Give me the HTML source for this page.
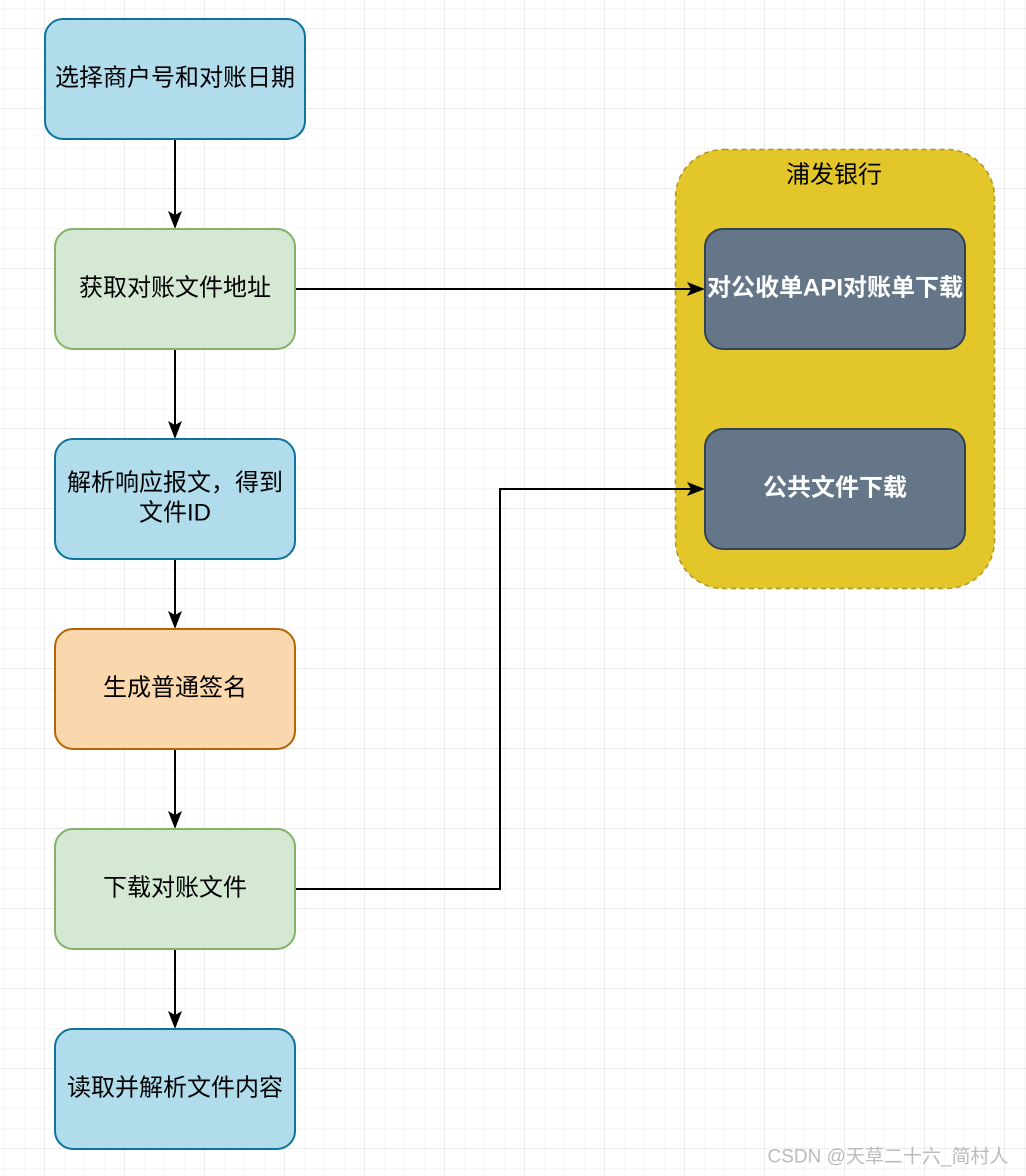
<!DOCTYPE html>
<html><head><meta charset="utf-8"><style>
html,body{margin:0;padding:0;background:#fff}
svg{display:block}
text{font-family:"Liberation Sans","Noto Sans CJK SC",sans-serif;font-size:24px;text-anchor:middle;dominant-baseline:central}
</style></head><body>
<svg width="1026" height="1176" viewBox="0 0 1026 1176" xmlns="http://www.w3.org/2000/svg">
<defs>
<pattern id="mi" x="4" y="8" width="20" height="20" patternUnits="userSpaceOnUse"><path d="M0 0H20M0 0V20" stroke="#efefef" stroke-width="1" fill="none"/></pattern>
<pattern id="ma" x="44" y="28" width="80" height="80" patternUnits="userSpaceOnUse"><path d="M0 0H80M0 0V80" stroke="#d8d8d8" stroke-width="1" fill="none"/></pattern>
</defs>
<rect width="1026" height="1176" fill="url(#mi)"/>
<rect width="1026" height="1176" fill="url(#ma)"/>
<rect x="675.5" y="149.5" width="319" height="439" rx="48" fill="#e3c62a" stroke="#b09620" stroke-width="1.5" stroke-dasharray="5 4"/>
<text x="834" y="175">浦发银行</text>
<g stroke="#000" stroke-width="2" fill="none">
<path d="M175 139V216"/>
<path d="M175 349V426"/>
<path d="M175 559V616"/>
<path d="M175 749V816"/>
<path d="M175 949V1016"/>
<path d="M296 289H692"/>
<path d="M296 889H500V489H692"/>
</g>
<g fill="#000">
<path d="M175 229L168 211L175 215L182 211Z"/>
<path d="M175 439L168 421L175 425L182 421Z"/>
<path d="M175 629L168 611L175 615L182 611Z"/>
<path d="M175 829L168 811L175 815L182 811Z"/>
<path d="M175 1029L168 1011L175 1015L182 1011Z"/>
<path d="M705 289L687 282L691 289L687 296Z"/>
<path d="M705 489L687 482L691 489L687 496Z"/>
</g>
<rect x="45" y="19" width="260" height="120" rx="18" fill="#b1dcec" stroke="#10739e" stroke-width="2"/>
<text x="175" y="78">选择商户号和对账日期</text>
<rect x="55" y="229" width="240" height="120" rx="18" fill="#d5e8d4" stroke="#82b366" stroke-width="2"/>
<text x="175" y="288">获取对账文件地址</text>
<rect x="55" y="439" width="240" height="120" rx="18" fill="#b1dcec" stroke="#10739e" stroke-width="2"/>
<text x="175" y="483">解析响应报文，得到</text>
<text x="175" y="513">文件ID</text>
<rect x="55" y="629" width="240" height="120" rx="18" fill="#fad7ac" stroke="#b46504" stroke-width="2"/>
<text x="175" y="688">生成普通签名</text>
<rect x="55" y="829" width="240" height="120" rx="18" fill="#d5e8d4" stroke="#82b366" stroke-width="2"/>
<text x="175" y="888">下载对账文件</text>
<rect x="55" y="1029" width="240" height="120" rx="18" fill="#b1dcec" stroke="#10739e" stroke-width="2"/>
<text x="175" y="1088">读取并解析文件内容</text>
<rect x="705" y="229" width="260" height="120" rx="18" fill="#647687" stroke="#314354" stroke-width="2"/>
<text x="835" y="288" fill="#fff" font-weight="bold">对公收单API对账单下载</text>
<rect x="705" y="429" width="260" height="120" rx="18" fill="#647687" stroke="#314354" stroke-width="2"/>
<text x="835" y="488" fill="#fff" font-weight="bold">公共文件下载</text>
<text x="888" y="1157" style="font-size:19px" fill="#bbb">CSDN @天草二十六_简村人</text>
</svg>
</body></html>
